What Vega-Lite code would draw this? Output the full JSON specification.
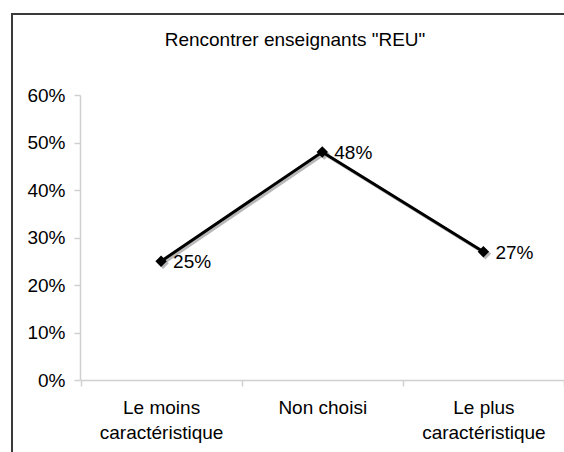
{
  "$schema": "https://vega.github.io/schema/vega-lite/v6.json",
  "width": 566,
  "height": 450,
  "autosize": {"type": "none"},
  "padding": {"left": 12, "top": 14, "right": 0, "bottom": 0},
  "background": "white",
  "title": {
    "text": "Rencontrer enseignants \"REU\"",
    "font": "Liberation Sans",
    "fontSize": 19,
    "fontWeight": "normal",
    "color": "black",
    "anchor": "middle",
    "baseline": "alphabetic",
    "offset": -51
  },
  "config": {
    "view": {"stroke": "#3a3a3a", "strokeWidth": 2},
    "axis": {
      "labelFont": "Liberation Sans",
      "labelFontSize": 19,
      "labelColor": "black",
      "titleFont": "Liberation Sans",
      "grid": false,
      "domainColor": "#d0d0d0",
      "tickColor": "#d0d0d0",
      "domainWidth": 1.5,
      "tickWidth": 1.5,
      "tickSize": 6
    }
  },
  "data": {
    "values": [
      {"categorie": "Le moins caractéristique", "pct": 0.25, "label": "25%"},
      {"categorie": "Non choisi", "pct": 0.48, "label": "48%"},
      {"categorie": "Le plus caractéristique", "pct": 0.27, "label": "27%"}
    ]
  },
  "encoding": {
    "x": {
      "field": "categorie",
      "type": "nominal",
      "sort": null,
      "scale": {"type": "band", "range": [68.5, 552], "paddingInner": 0, "paddingOuter": 0},
      "axis": {
        "title": null,
        "orient": "bottom",
        "offset": -84,
        "labelAngle": 0,
        "tickBand": "extent",
        "labelPadding": 12,
        "labelLineHeight": 25,
        "labelExpr": "datum.label == 'Le moins caractéristique' ? ['Le moins', 'caractéristique'] : datum.label == 'Le plus caractéristique' ? ['Le plus', 'caractéristique'] : datum.label"
      }
    },
    "y": {
      "field": "pct",
      "type": "quantitative",
      "scale": {"domain": [0, 0.6], "range": [366, 81], "nice": false, "zero": false},
      "axis": {
        "title": null,
        "orient": "left",
        "offset": -68,
        "values": [0, 0.1, 0.2, 0.3, 0.4, 0.5, 0.6],
        "format": ".0%",
        "labelPadding": 9
      }
    }
  },
  "layer": [
    {
      "mark": {"type": "line", "color": "#b8b8b8", "strokeWidth": 3, "xOffset": 2, "yOffset": 2}
    },
    {
      "mark": {"type": "point", "shape": "diamond", "filled": true, "color": "#b8b8b8", "opacity": 1, "size": 130, "xOffset": 2, "yOffset": 2}
    },
    {
      "mark": {"type": "line", "color": "black", "strokeWidth": 3}
    },
    {
      "mark": {"type": "point", "shape": "diamond", "filled": true, "color": "black", "opacity": 1, "size": 130}
    },
    {
      "mark": {"type": "text", "align": "left", "baseline": "middle", "dx": 12, "dy": 1, "font": "Liberation Sans", "fontSize": 19, "color": "black"},
      "encoding": {"text": {"field": "label"}}
    }
  ]
}
